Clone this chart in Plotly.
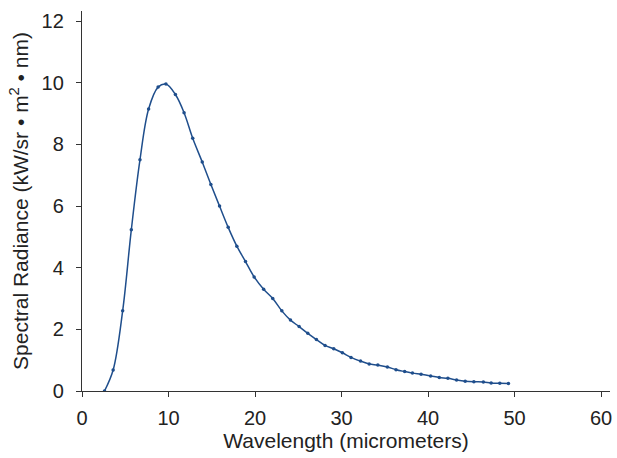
import plotly.graph_objects as go

wavelength = [2.6, 3.6, 4.7, 5.7, 6.7, 7.7, 8.8, 9.7, 10.8, 11.8, 12.8, 13.9, 14.9, 15.9,
              16.9, 17.9, 18.9, 19.9, 21.0, 22.05, 23.1, 24.1, 25.1, 26.1, 27.1, 28.1,
              29.1, 30.1, 31.1, 32.2, 33.2, 34.2, 35.3, 36.3, 37.3, 38.2, 39.2, 40.3,
              41.3, 42.3, 43.3, 44.3, 45.3, 46.4, 47.3, 48.3, 49.3]
radiance = [0.0, 0.68, 2.6, 5.23, 7.5, 9.15, 9.86, 9.96, 9.62, 9.03, 8.2, 7.43, 6.7, 6.0,
            5.31, 4.7, 4.2, 3.7, 3.3, 3.0, 2.6, 2.30, 2.09, 1.87, 1.67, 1.48,
            1.37, 1.24, 1.09, 0.97, 0.88, 0.84, 0.78, 0.69, 0.63, 0.58, 0.54, 0.49,
            0.44, 0.41, 0.36, 0.32, 0.30, 0.29, 0.26, 0.25, 0.24]

x_ticks = [0, 10, 20, 30, 40, 50, 60]
y_ticks = [0, 2, 4, 6, 8, 10, 12]

color = "#1f4e8c"
font = "Liberation Sans, Arial, sans-serif"

fig = go.Figure()
fig.add_trace(go.Scatter(
    x=wavelength, y=radiance, mode="lines+markers",
    line=dict(color=color, width=1.5, shape="spline", smoothing=1.0),
    marker=dict(color=color, size=3.5),
    showlegend=False,
))

axis_common = dict(
    showgrid=False, zeroline=False, showline=True, linecolor="#333", linewidth=1.3,
    ticks="outside", ticklen=5, tickcolor="#333", tickwidth=1.2,
    tickfont=dict(family=font, size=20, color="#222"),
)

fig.update_layout(
    width=617, height=458,
    margin=dict(l=82, r=5, t=11, b=67),
    paper_bgcolor="white", plot_bgcolor="white",
    font=dict(family=font, size=20, color="#222"),
    xaxis=dict(range=[0, 61.04], tickvals=x_ticks, ticklabelstandoff=4,
               title=dict(text="Wavelength (micrometers)", standoff=5,
                          font=dict(family=font, size=21, color="#222")),
               **axis_common),
    yaxis=dict(range=[0, 12.33], tickvals=y_ticks, ticklabelstandoff=8,
               title=dict(text="Spectral Radiance (kW/sr \u2022 m<sup>2</sup> \u2022 nm)", standoff=7,
                          font=dict(family=font, size=21, color="#222")),
               **axis_common),
)

fig.write_html("out.html")
